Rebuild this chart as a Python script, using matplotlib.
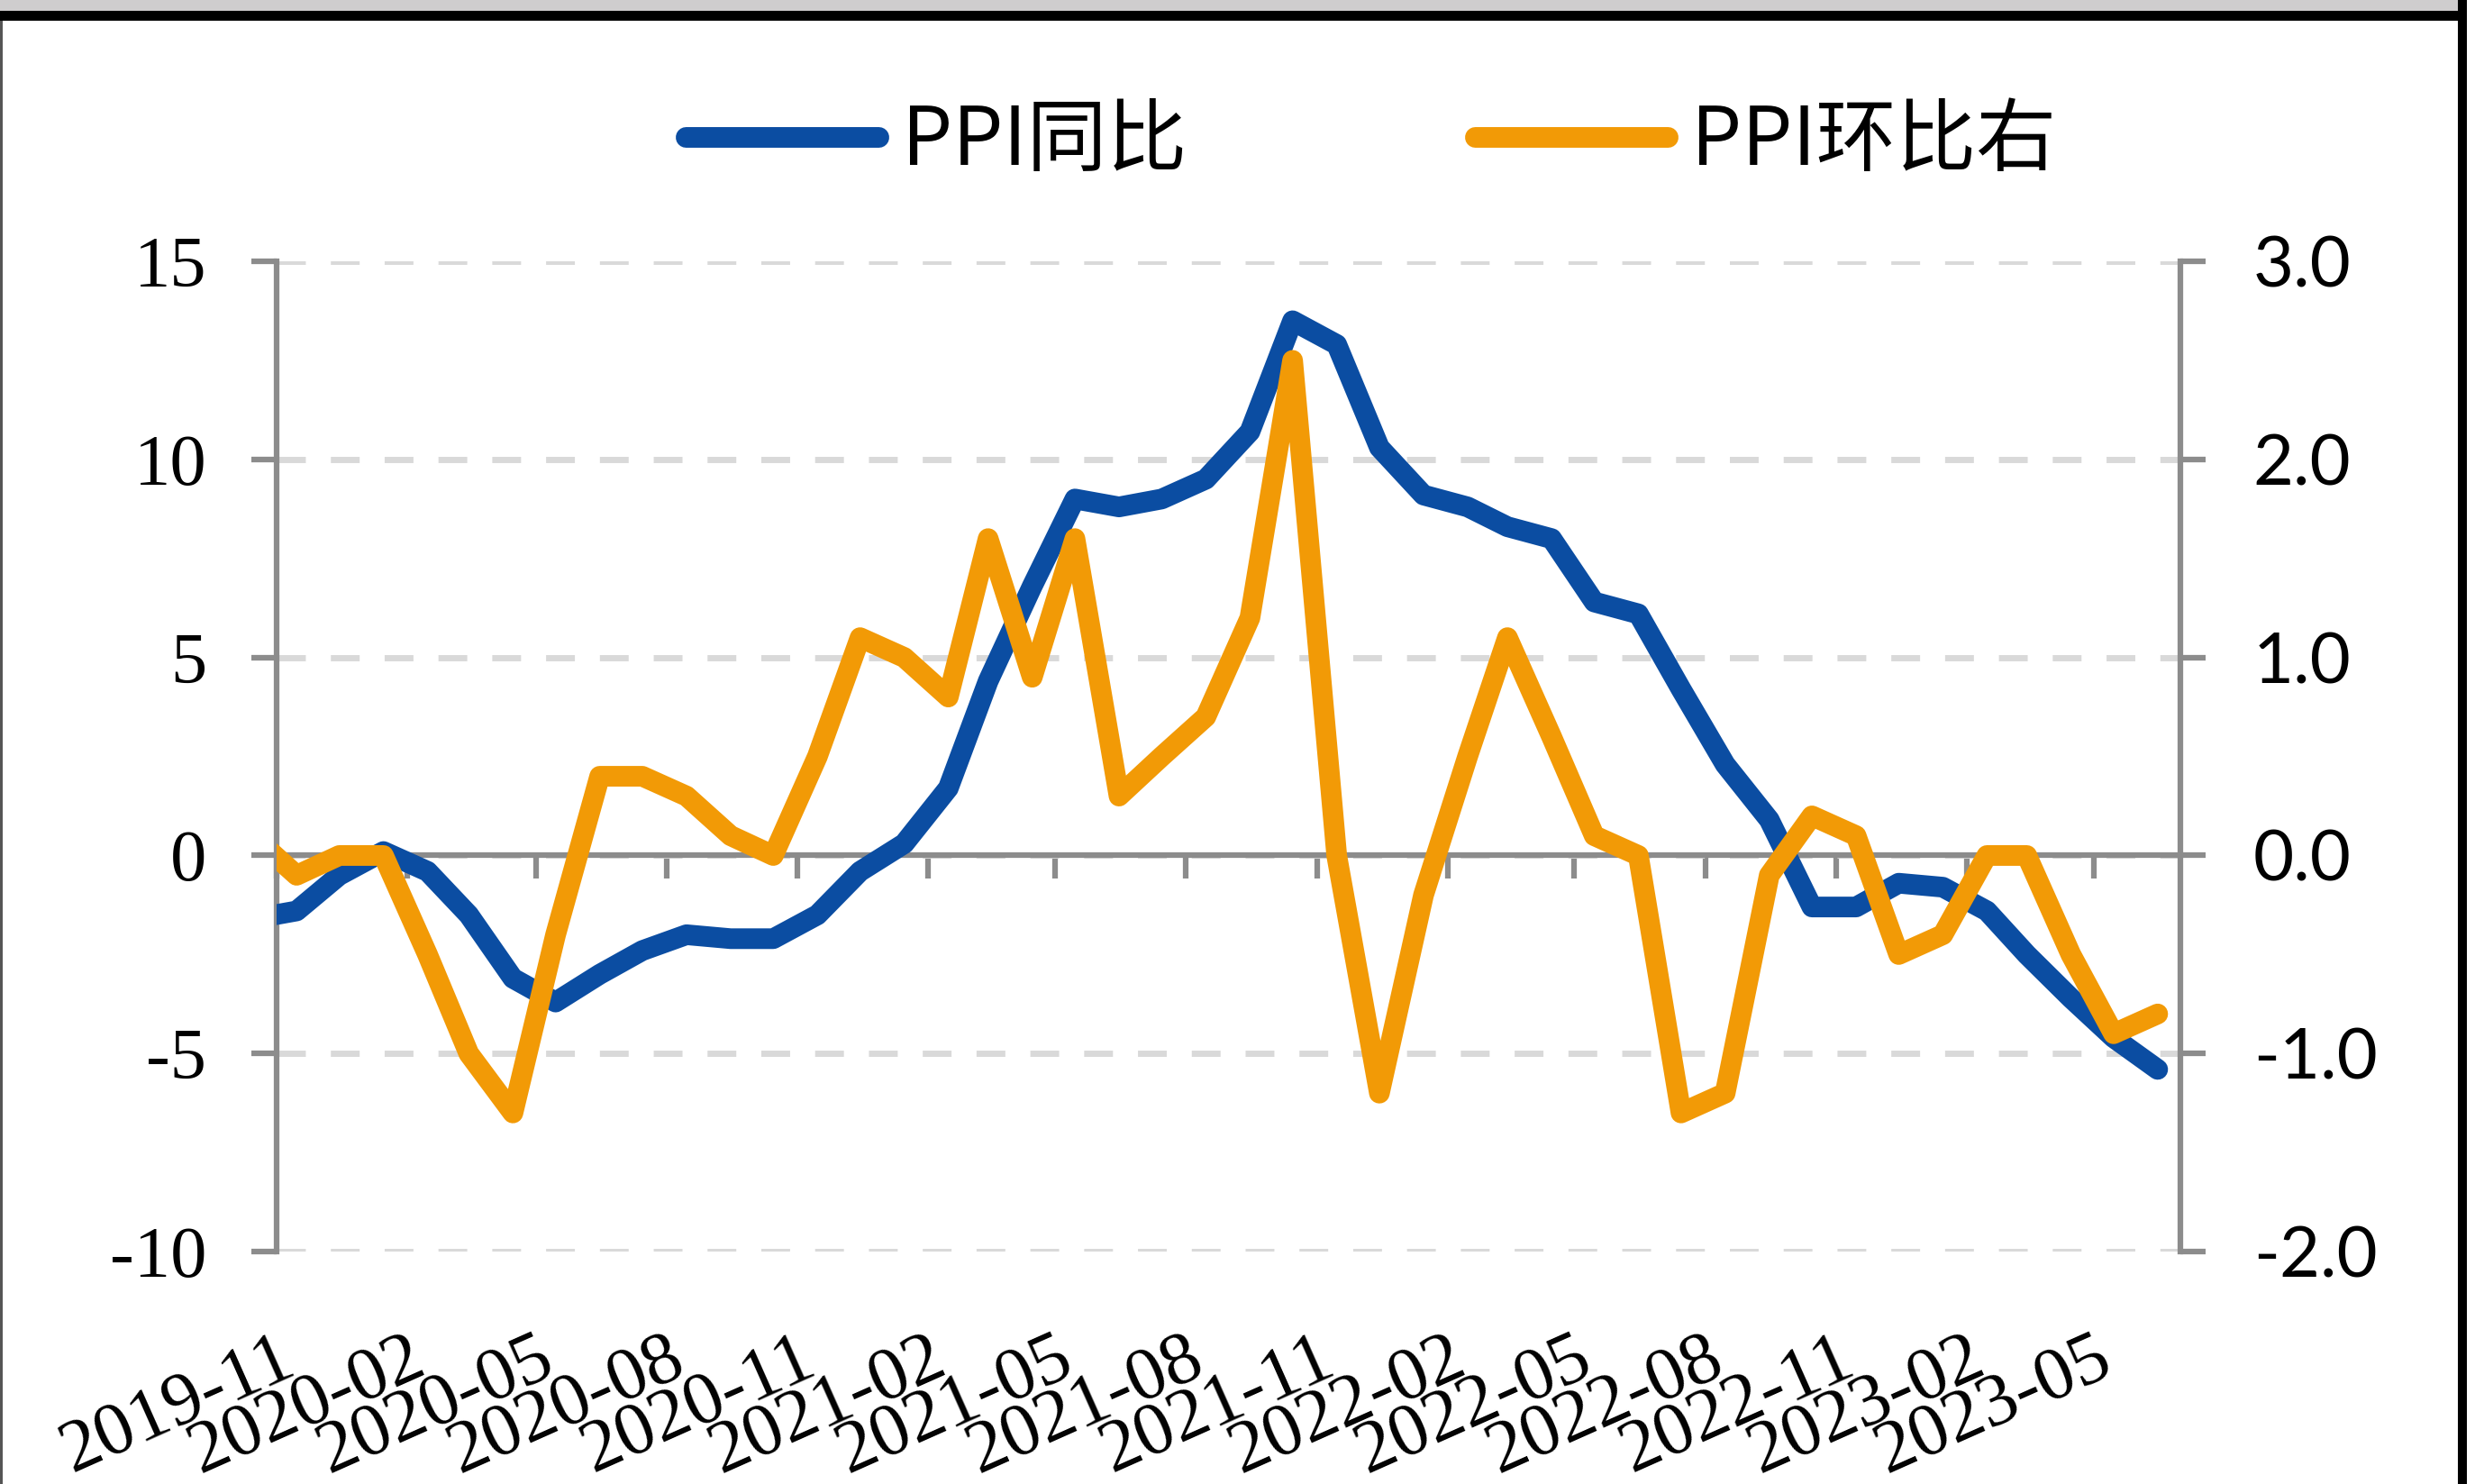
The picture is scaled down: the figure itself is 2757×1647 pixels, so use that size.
import numpy as np
import pandas as pd
import matplotlib
matplotlib.use("Agg")
import matplotlib.pyplot as plt
import matplotlib.dates as mdates
from matplotlib.ticker import FormatStrFormatter, FixedLocator
from matplotlib.patches import Rectangle

# dane: PPI miesieczne (r/r lewa os, m/m prawa os)
months = ["2019-10", "2019-11", "2019-12", "2020-01", "2020-02", "2020-03", "2020-04",
          "2020-05", "2020-06", "2020-07", "2020-08", "2020-09", "2020-10", "2020-11",
          "2020-12", "2021-01", "2021-02", "2021-03", "2021-04", "2021-05", "2021-06",
          "2021-07", "2021-08", "2021-09", "2021-10", "2021-11", "2021-12", "2022-01",
          "2022-02", "2022-03", "2022-04", "2022-05", "2022-06", "2022-07", "2022-08",
          "2022-09", "2022-10", "2022-11", "2022-12", "2023-01", "2023-02", "2023-03",
          "2023-04", "2023-05", "2023-06"]
ppi_yoy = [-1.6, -1.4, -0.5, 0.1, -0.4, -1.5, -3.1, -3.7, -3.0, -2.4, -2.0, -2.1, -2.1, -1.5,
           -0.4, 0.3, 1.7, 4.4, 6.8, 9.0, 8.8, 9.0, 9.5, 10.7, 13.5, 12.9, 10.3, 9.1,
           8.8, 8.3, 8.0, 6.4, 6.1, 4.2, 2.3, 0.9, -1.3, -1.3, -0.7, -0.8, -1.4, -2.5,
           -3.6, -4.6, -5.4]
ppi_mom = [0.1, -0.1, 0.0, 0.0, -0.5, -1.0, -1.3, -0.4, 0.4, 0.4, 0.3, 0.1, 0.0, 0.5,
           1.1, 1.0, 0.8, 1.6, 0.9, 1.6, 0.3, 0.5, 0.7, 1.2, 2.5, 0.0, -1.2, -0.2,
           0.5, 1.1, 0.6, 0.1, 0.0, -1.3, -1.2, -0.1, 0.2, 0.1, -0.5, -0.4, 0.0, 0.0,
           -0.5, -0.9, -0.8]
tick_labels = ["2019-11", "2020-02", "2020-05", "2020-08", "2020-11", "2021-02", "2021-05",
               "2021-08", "2021-11", "2022-02", "2022-05", "2022-08", "2022-11", "2023-02",
               "2023-05"]
left_ticks = [15, 10, 5, 0, -5, -10]
right_ticks = [3.0, 2.0, 1.0, 0.0, -1.0, -2.0]
legend_labels = ["PPI同比", "PPI环比右"]

BLUE = "#0B4DA2"
ORANGE = "#F29A06"
AXIS_GRAY = "#8C8C8C"
GRID_GRAY = "#D9D9D9"

plt.rcParams["axes.unicode_minus"] = False

# punkty w polowie miesiaca, os od poczatku 2019-11 do poczatku 2023-07
x = mdates.date2num(pd.to_datetime(months) + pd.Timedelta(days=14))
xt = mdates.date2num(pd.to_datetime(tick_labels))
x_min = mdates.date2num(pd.Timestamp("2019-11-01"))
x_max = mdates.date2num(pd.Timestamp("2023-07-01"))

fig = plt.figure(figsize=(27.57, 16.47), dpi=100)
ax = fig.add_axes([0.1114, 0.1566, 0.7664, 0.6673])

# ramka obrazka (zrzut ekranu)
fig.patches.append(Rectangle((0, 1 - 12 / 1647), 2728 / 2757, 12 / 1647, transform=fig.transFigure,
                             facecolor="#CFCDCE", edgecolor="none"))
fig.patches.append(Rectangle((0, 1 - 23 / 1647), 2738 / 2757, 11 / 1647, transform=fig.transFigure,
                             facecolor="black", edgecolor="none"))
fig.patches.append(Rectangle((2728 / 2757, 0), 10 / 2757, 1, transform=fig.transFigure,
                             facecolor="black", edgecolor="none"))
fig.patches.append(Rectangle((0, 0), 3 / 2757, 1 - 23 / 1647, transform=fig.transFigure,
                             facecolor="#555555", edgecolor="none"))

ax.plot(x, ppi_yoy, color=BLUE, lw=16.5, solid_joinstyle="round", solid_capstyle="round",
        label=legend_labels[0], zorder=3)
ax.set_xlim(x_min, x_max)
ax.set_ylim(-10, 15)
ax.yaxis.set_major_locator(FixedLocator(left_ticks))
ax.set_yticklabels([str(v) for v in left_ticks], family="Liberation Serif", fontsize=58)
ax.grid(axis="y", color=GRID_GRAY, lw=5, ls=(0, (4.6, 4)), zorder=0)
ax.grid(axis="x", visible=False)

for s in ["top", "right"]:
    ax.spines[s].set_visible(False)
ax.spines["bottom"].set_position(("data", 0))
for s in ["left", "bottom"]:
    ax.spines[s].set_color(AXIS_GRAY)
    ax.spines[s].set_linewidth(4.5)
ax.set_xticks(xt)
ax.tick_params(axis="x", direction="out", length=19, width=4.5, color=AXIS_GRAY, labelbottom=False)
ax.tick_params(axis="y", direction="out", length=20, width=4.5, color=AXIS_GRAY, pad=36)

# etykiety dat na dole wykresu
sec = ax.secondary_xaxis("bottom")
sec.set_xticks(xt)
sec.set_xticklabels(tick_labels, rotation=24, ha="right", va="top", rotation_mode="anchor",
                    family="Liberation Serif", fontsize=60)
sec.spines["bottom"].set_visible(False)
sec.tick_params(axis="x", length=0, pad=58)

# prawa os: PPI m/m
ax2 = ax.twinx()
ax2.plot(x, ppi_mom, color=ORANGE, lw=16.5, solid_joinstyle="round", solid_capstyle="round",
         label=legend_labels[1], zorder=3)
ax2.set_ylim(-2, 3)
ax2.yaxis.set_major_locator(FixedLocator(right_ticks))
ax2.yaxis.set_major_formatter(FormatStrFormatter("%.1f"))
for s in ["top", "left", "bottom"]:
    ax2.spines[s].set_visible(False)
ax2.spines["right"].set_color(AXIS_GRAY)
ax2.spines["right"].set_linewidth(4.5)
ax2.tick_params(axis="y", direction="out", length=20, width=4.5, color=AXIS_GRAY, pad=38)
for t in ax2.get_yticklabels():
    t.set_family("Lato")
    t.set_fontsize(56)

h1, l1 = ax.get_legend_handles_labels()
h2, l2 = ax2.get_legend_handles_labels()
fig.legend(h1 + h2, l1 + l2, loc="center", bbox_to_anchor=(0.552, 0.904), ncol=2, frameon=False,
           prop={"family": ["Noto Sans CJK SC", "DejaVu Sans"], "size": 64},
           handlelength=2.4, handletextpad=0.3, columnspacing=3.6)

fig.savefig("out.png", dpi=100, facecolor="white")
